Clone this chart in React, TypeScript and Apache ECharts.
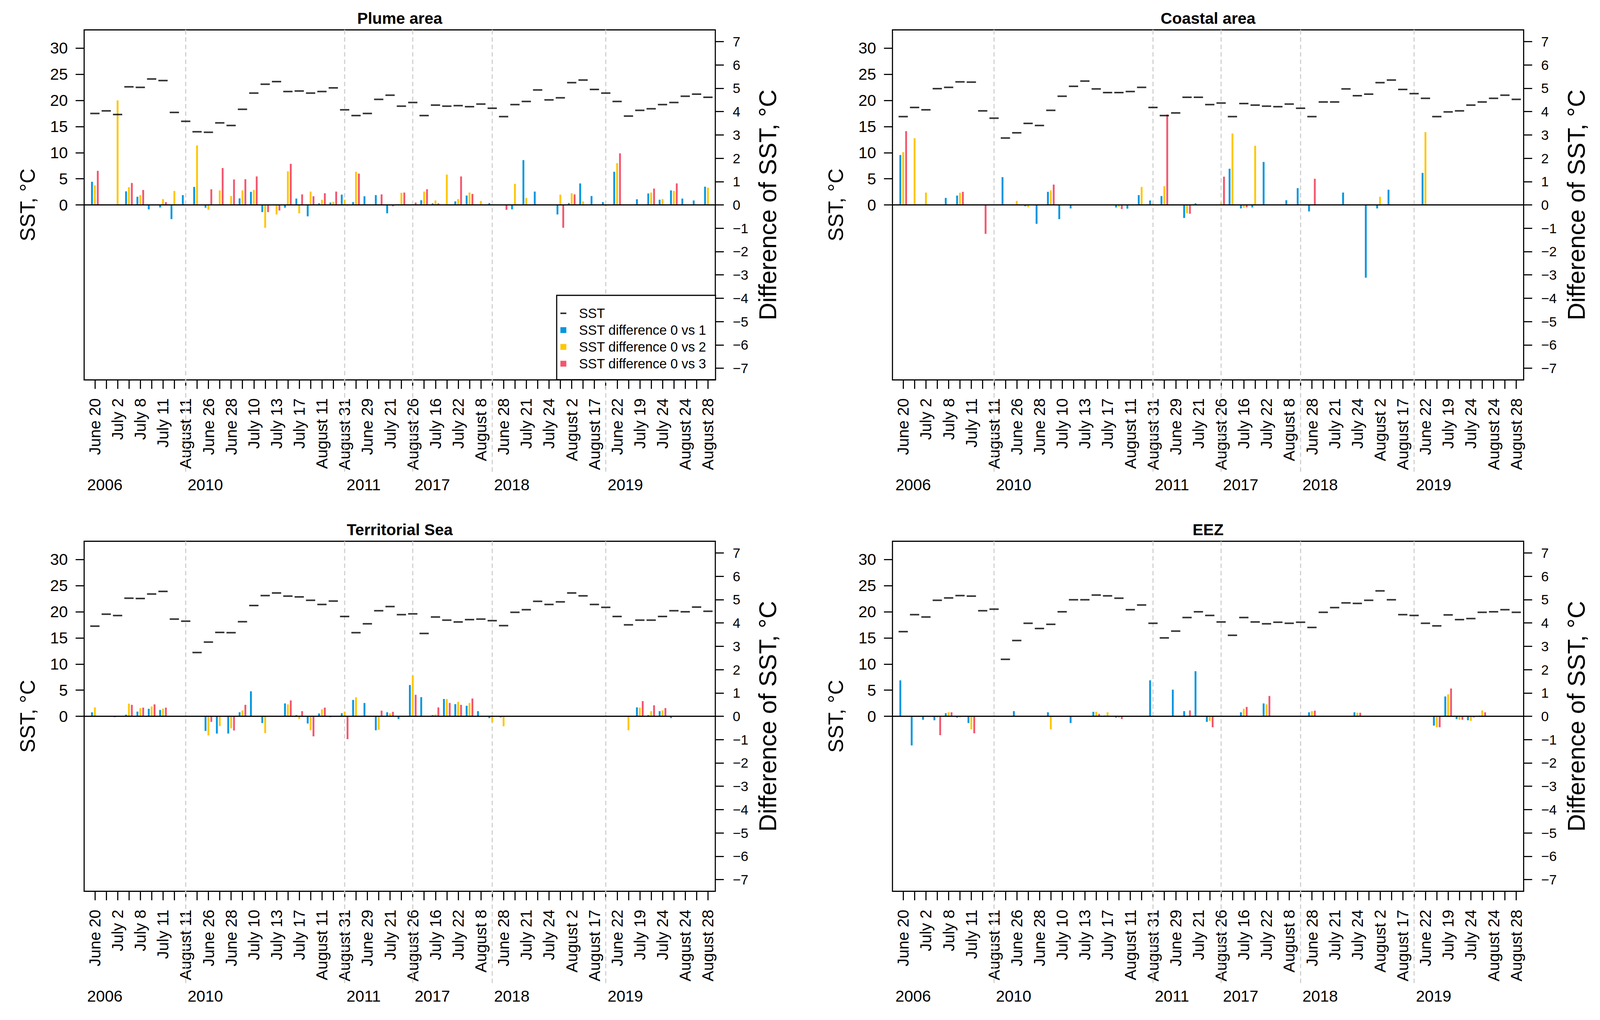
import React, { useEffect, useRef } from 'react';
import * as echarts from 'echarts';

// ---------- data ----------
// category (sampling date) labels; blanks = labels not printed in the figure
const dateLabels = [
  'June 20', '', 'July 2', '', 'July 8', '', 'July 11', '', 'August 11', '',
  'June 26', '', 'June 28', '', 'July 10', '', 'July 13', '', 'July 17', '',
  'August 11', '', 'August 31', '', 'June 29', '', 'July 21', '', 'August 26', '',
  'July 16', '', 'July 22', '', 'August 8', '', 'June 28', '', 'July 21', '',
  'July 24', '', 'August 2', '', 'August 17', '', 'June 22', '', 'July 19', '',
  'July 24', '', 'August 24', '', 'August 28',
];
const yearLabels = ['2006', '2010', '2011', '2017', '2018', '2019'];
const yearLastIdx = [8, 22, 28, 35, 45]; // last observation of each year (dashed lines)
const sstTicks = [0, 5, 10, 15, 20, 25, 30];
const diffTicks = [-7, -6, -5, -4, -3, -2, -1, 0, 1, 2, 3, 4, 5, 6, 7];
const panelTitles = ['Plume area', 'Coastal area', 'Territorial Sea', 'EEZ'];
const seriesNames = ['SST', 'SST difference 0 vs 1', 'SST difference 0 vs 2', 'SST difference 0 vs 3'];

const plumeSST = [17.5, 18.0, 17.3, 22.6, 22.5, 24.1, 23.8, 17.7, 16.0, 14.0, 13.9, 15.7, 15.2, 18.3, 21.4, 23.1, 23.6, 21.7, 21.8, 21.4, 21.7, 22.4, 18.2, 17.1, 17.5, 20.2, 21.0, 18.9, 19.6, 17.1, 19.1, 18.9, 19.0, 18.8, 19.3, 18.5, 16.9, 19.2, 19.8, 22.0, 20.1, 20.5, 23.4, 23.9, 22.1, 21.4, 19.8, 17.0, 18.1, 18.4, 19.2, 19.6, 20.8, 21.2, 20.6];
const plumeD1 = [0.99, 0, 0, 0.58, 0.35, -0.19, -0.11, -0.61, 0.42, 0.77, -0.12, 0, 0, 0.28, 0.56, -0.31, 0, -0.12, 0.27, -0.49, 0.07, 0.10, 0.44, 0.12, 0.37, 0.42, -0.36, 0.03, 0, 0.20, 0.07, 0, 0.15, 0.40, 0, 0.08, 0, -0.19, 1.92, 0.57, 0, -0.41, 0.08, 0.92, 0.38, 0.12, 1.42, 0, 0.24, 0.49, 0.22, 0.62, 0.27, 0.19, 0.78];
const plumeD2 = [0.84, 0, 4.48, 0.76, 0.42, 0, 0.25, 0.60, 0, 2.55, -0.21, 0.62, 0.38, 0.62, 0.64, -0.98, -0.41, 1.44, -0.36, 0.57, 0.22, 0.13, 0.22, 1.42, 0, 0, -0.03, 0.52, 0, 0.57, 0.19, 1.30, 0.25, 0.53, 0.17, 0, 0, 0.90, 0.30, 0, 0, 0.44, 0.50, 0.15, 0, -0.06, 1.79, 0, 0, 0.53, 0.25, 0.60, 0, 0, 0.74];
const plumeD3 = [1.46, 0, 0, 0.94, 0.64, 0, 0.12, 0, 0, 0, 0.67, 1.58, 1.09, 1.10, 1.22, -0.31, -0.24, 1.76, 0.45, 0.37, 0.50, 0.57, -0.03, 1.34, 0, 0.45, -0.06, 0.53, 0.10, 0.67, 0.07, 0, 1.22, 0.47, 0, 0, -0.21, 0, 0, 0, 0, -0.98, 0.45, 0, 0, 0, 2.21, 0, 0, 0.70, 0, 0.92, 0, 0, 0];

const coastalSST = [16.9, 18.65, 18.2, 22.25, 22.5, 23.55, 23.5, 18.0, 16.6, 12.8, 13.8, 15.6, 15.2, 18.1, 20.8, 22.7, 23.7, 22.2, 21.5, 21.5, 21.7, 22.5, 18.65, 17.1, 17.6, 20.6, 20.6, 19.2, 19.5, 16.9, 19.4, 19.1, 18.9, 18.8, 19.3, 18.5, 16.9, 19.7, 19.7, 22.2, 20.9, 21.2, 23.4, 23.9, 22.1, 21.3, 20.4, 16.9, 17.8, 18.0, 19.1, 19.7, 20.4, 21.0, 20.2];
const coastalD1 = [2.14, 0, 0, 0, 0.30, 0.40, 0, 0, 0, 1.19, 0, -0.06, -0.81, 0.56, -0.61, -0.15, 0, 0, 0, -0.11, -0.16, 0.42, 0.19, 0.38, 0, -0.56, 0.07, 0, 0, 1.55, -0.15, -0.11, 1.84, 0, 0.20, 0.72, -0.28, 0, 0, 0.53, 0, -3.12, -0.15, 0.65, 0, 0, 1.37, 0, 0, 0, 0, 0, 0, 0, 0];
const coastalD2 = [2.26, 2.86, 0.53, 0, 0, 0.52, 0, 0, 0, 0, 0.17, -0.10, 0, 0.62, 0, 0, 0, 0, 0, -0.08, 0, 0.77, 0.07, 0.80, 0, -0.36, 0, 0, 0.10, 3.06, -0.12, 2.53, 0, 0, 0, 0, 0, 0, 0, 0, 0, 0, 0.35, 0, 0, 0, 3.12, 0, 0, 0, 0, 0, 0, 0, 0];
const coastalD3 = [3.16, 0, 0, 0, 0, 0.56, 0, -1.24, 0, 0, 0, 0, 0, 0.87, 0, 0, 0, 0, 0, -0.18, 0, 0, 0, 3.87, 0, -0.38, 0, 0, 1.21, 0, -0.10, 0, 0, 0, 0, 0, 1.12, 0, 0, 0, 0, 0, 0, 0, 0, 0, 0, 0, 0, 0, 0, 0, 0, 0, 0];

const territorialSST = [17.25, 19.54, 19.28, 22.6, 22.54, 23.4, 23.9, 18.6, 18.2, 12.2, 14.2, 16.05, 16.0, 18.1, 21.2, 23.1, 23.6, 23.0, 22.85, 22.2, 21.4, 22.05, 19.1, 16.0, 17.7, 20.2, 21.0, 19.45, 19.6, 15.85, 19.0, 18.4, 18.05, 18.5, 18.6, 18.3, 17.35, 19.9, 20.4, 22.0, 21.4, 21.9, 23.6, 23.05, 21.4, 20.85, 19.1, 17.5, 18.4, 18.4, 19.1, 20.2, 20.0, 20.9, 20.1];
const territorialD1 = [0.17, 0, -0.04, 0.07, 0.20, 0.32, 0.27, 0, 0, 0, -0.63, -0.74, -0.74, 0.17, 1.07, -0.29, 0, 0.55, 0.05, -0.31, 0.12, -0.04, 0.13, 0.70, 0.57, -0.60, 0.17, -0.12, 1.34, 0.82, 0.05, 0.74, 0.52, 0.45, 0.22, -0.08, -0.05, 0, 0, 0, 0, 0, 0, 0, 0, 0, 0, 0, 0.38, 0.05, 0.22, -0.08, 0, 0, 0];
const territorialD2 = [0.38, 0, 0, 0.54, 0.35, 0.42, 0.33, 0, 0, 0, -0.82, -0.42, -0.52, 0.25, 0, -0.72, 0, 0.51, -0.12, -0.60, 0.30, 0, 0.20, 0.81, 0, -0.58, 0.12, 0, 1.75, 0, 0.08, 0.74, 0.62, 0.57, 0, -0.26, -0.43, 0, 0, 0, 0, 0, 0, 0, 0, 0, 0, -0.60, 0.37, 0.22, 0.25, 0, 0, 0, 0];
const territorialD3 = [0, 0, 0, 0.49, 0.37, 0.51, 0.37, 0, 0, 0, -0.24, 0, -0.61, 0.49, 0, 0, 0, 0.68, 0.22, -0.86, 0.37, 0, -0.98, 0, 0, 0.24, 0.19, 0, 0.92, 0, 0.38, 0.57, 0.49, 0.76, 0, 0, 0, 0, 0, 0, 0, 0, 0, 0, 0, 0, 0, 0, 0.65, 0.47, 0.35, 0, 0, 0, 0];

const eezSST = [16.2, 19.45, 19.0, 22.2, 22.65, 23.1, 23.0, 20.2, 20.5, 10.9, 14.5, 17.8, 16.8, 17.6, 20.0, 22.3, 22.3, 23.2, 23.05, 22.6, 20.4, 21.3, 17.8, 15.0, 16.3, 18.9, 20.0, 19.3, 18.05, 15.5, 18.9, 18.05, 17.7, 18.0, 17.8, 18.0, 17.0, 19.9, 20.8, 21.7, 21.6, 22.2, 24.0, 22.3, 19.45, 19.3, 17.8, 17.3, 19.4, 18.5, 18.7, 19.9, 20.0, 20.4, 19.9];
const eezD1 = [1.54, -1.25, -0.15, -0.17, 0.13, -0.06, -0.29, 0, 0, 0, 0.22, 0, 0, 0.17, 0, -0.29, 0, 0.19, 0.03, -0.06, 0, 0, 1.54, 0, 1.14, 0.22, 1.93, -0.24, 0, 0, 0.17, 0, 0.55, 0, 0, 0, 0.17, 0, 0, 0, 0.17, 0, 0, 0, 0, 0, 0, -0.40, 0.85, -0.12, -0.17, 0.03, 0, 0, 0];
const eezD2 = [0, 0, 0, -0.05, 0.17, -0.05, -0.56, 0, 0, 0, 0, 0, 0, -0.56, 0, 0, 0, 0.19, 0.17, -0.06, 0, 0, 0, 0, 0, 0, 0, -0.20, 0, 0, 0.32, 0, 0.51, 0, 0, 0, 0.22, 0, 0, 0, 0.15, 0, 0, 0, 0, 0, 0, -0.47, 0.94, -0.15, -0.20, 0.25, 0, 0, 0];
const eezD3 = [0, 0, 0, -0.81, 0.17, 0, -0.73, 0, 0, 0, 0, 0, 0, 0, 0, 0, 0, 0.10, 0, -0.12, 0, 0, 0, 0, 0, 0.25, 0, -0.47, 0, 0, 0.40, 0, 0.87, 0, 0, 0, 0.24, 0, 0, 0, 0.15, 0, 0, 0, 0, 0, 0, -0.47, 1.19, -0.15, -0.05, 0.17, 0, 0, 0];

// ---------- layout / style (designed for a 4317 x 2611 page, scaled to the real size) ----------
const FONT = "'Liberation Sans', Arial, Helvetica, sans-serif";
const COLORS = ['#0496E0', '#FFC600', '#F4566E'];
const REF_W = 4317;
const REF_H = 2611;
const X_MIN = -0.947;
const X_MAX = 54.65;

function buildOption(W: number, H: number) {
  const sx = W / REF_W;
  const sy = H / REF_H;
  const sf = Math.min(sx, sy);
  const X = (v: number) => v * sx;
  const Y = (v: number) => v * sy;
  const F = (v: number) => v * sf;

  const GRID_W = X(1703);
  const GRID_H = Y(896);
  const GRID_LEFTS = [X(227), X(2408)];
  const GRID_TOPS = [Y(76.5), Y(1385.5)];

  const panelData = [
    [plumeSST, plumeD1, plumeD2, plumeD3],
    [coastalSST, coastalD1, coastalD2, coastalD3],
    [territorialSST, territorialD1, territorialD2, territorialD3],
    [eezSST, eezD1, eezD2, eezD3],
  ];
  const catIdx = dateLabels.map((_, i) => i);
  const labelIdx = catIdx.filter((i) => dateLabels[i] !== '');
  const yearPos = [X_MIN + 0.1, ...yearLastIdx];

  const grid: any[] = [];
  const xAxis: any[] = [];
  const yAxis: any[] = [];
  const series: any[] = [];
  const title: any[] = [];
  const lw = Math.max(1, F(3));
  const tickStyle = { color: '#000', width: lw };

  panelData.forEach((pd, k) => {
    const left = GRID_LEFTS[k % 2];
    const top = GRID_TOPS[Math.floor(k / 2)];
    grid.push({
      left, top, width: GRID_W, height: GRID_H, show: true,
      borderColor: '#000', borderWidth: lw, backgroundColor: 'transparent',
    });
    title.push({
      text: panelTitles[k], left: left + GRID_W / 2, top: top - Y(50), textAlign: 'center', padding: 0,
      textStyle: { fontSize: F(43), fontWeight: 'bold', color: '#000', fontFamily: FONT },
    });
    // main x axis: ticks + date labels
    xAxis.push({
      gridIndex: k, type: 'value', min: X_MIN, max: X_MAX, position: 'bottom',
      axisLine: { show: false, onZero: false }, splitLine: { show: false },
      axisTick: { show: true, length: Y(23), lineStyle: tickStyle, customValues: catIdx },
      axisLabel: {
        customValues: labelIdx, rotate: 90, margin: Y(47), fontSize: F(43), color: '#000', fontFamily: FONT,
        formatter: (v: number) => dateLabels[Math.round(v)],
      },
    });
    // year labels
    xAxis.push({
      gridIndex: k, type: 'value', min: X_MIN, max: X_MAX, position: 'bottom',
      axisLine: { show: false, onZero: false }, axisTick: { show: false }, splitLine: { show: false },
      axisLabel: {
        customValues: yearPos, margin: Y(248), fontSize: F(43), color: '#000', fontFamily: FONT, align: 'left',
        padding: [0, 0, 0, X(5)],
        formatter: (v: number) => {
          let best = 0;
          yearPos.forEach((p, j) => { if (Math.abs(p - v) < Math.abs(yearPos[best] - v)) best = j; });
          return yearLabels[best];
        },
      },
    });
    yAxis.push({
      gridIndex: k, type: 'value', min: -33.5, max: 33.5, position: 'left',
      axisLine: { show: false, onZero: false }, splitLine: { show: false },
      axisTick: { show: true, length: X(23), lineStyle: tickStyle, customValues: sstTicks },
      axisLabel: { customValues: sstTicks, margin: X(44), fontSize: F(43), color: '#000', fontFamily: FONT },
      name: 'SST, °C', nameLocation: 'middle', nameRotate: 90, nameGap: X(125),
      nameTextStyle: { fontSize: F(56), color: '#000', fontFamily: FONT },
    });
    yAxis.push({
      gridIndex: k, type: 'value', min: -7.5, max: 7.5, position: 'right',
      axisLine: { show: false, onZero: false }, splitLine: { show: false },
      axisTick: { show: true, length: X(23), lineStyle: tickStyle, customValues: diffTicks },
      axisLabel: {
        customValues: diffTicks, margin: X(47), fontSize: F(37), color: '#000', fontFamily: FONT,
        formatter: (v: number) => (v < 0 ? '\u2212' + Math.abs(v) : String(v)),
      },
      name: 'Difference of SST, °C', nameLocation: 'middle', nameRotate: 90, nameGap: X(108),
      nameTextStyle: { fontSize: F(66), color: '#000', fontFamily: FONT },
    });

    const xi = 2 * k;
    const lineExt = Y(242);
    // dashed year separators
    series.push({
      type: 'custom', xAxisIndex: xi, yAxisIndex: 2 * k + 1, silent: true, clip: false, z: 1,
      data: yearLastIdx.map((v) => [v, 0]),
      renderItem: (params: any, api: any) => {
        const x = api.coord([api.value(0), 0])[0];
        const cs = params.coordSys;
        return {
          type: 'line',
          shape: { x1: x, y1: cs.y, x2: x, y2: cs.y + cs.height + lineExt },
          style: { stroke: '#cfcfcf', lineWidth: lw, lineDash: [F(12), F(8)] },
        };
      },
    });
    // SST dashes
    series.push({
      type: 'scatter', name: seriesNames[0], xAxisIndex: xi, yAxisIndex: 2 * k,
      symbol: 'rect', symbolSize: [X(25), Math.max(1.5, Y(4))], itemStyle: { color: '#000' }, z: 3,
      data: pd[0].map((v, i) => [i, v]),
    });
    // difference bars
    for (let s = 1; s <= 3; s++) {
      const bar: any = {
        type: 'bar', name: seriesNames[s], xAxisIndex: xi, yAxisIndex: 2 * k + 1,
        barWidth: X(5), barGap: '56%', itemStyle: { color: COLORS[s - 1] }, z: 2,
        data: pd[s].map((v, i) => [i, v]),
      };
      if (s === 3) {
        bar.markLine = {
          silent: true, symbol: ['none', 'none'], label: { show: false },
          lineStyle: { color: '#000', width: lw, type: 'solid' },
          data: [{ yAxis: 0 }],
        };
      }
      series.push(bar);
    }
  });

  const sqIcon = 'path://M0,0H16V16H0ZM45,16L45,16';
  const dashIcon = 'path://M0,6H16V10H0ZM0,0L0,0M45,16L45,16';

  return {
    animation: false,
    backgroundColor: '#fff',
    textStyle: { fontFamily: FONT },
    title,
    grid,
    xAxis,
    yAxis,
    legend: {
      left: X(1502), top: Y(756), orient: 'vertical', selectedMode: false,
      backgroundColor: '#fff', borderColor: '#000', borderWidth: lw,
      padding: [Y(26), X(25), Y(21), X(10)], itemGap: Y(3), itemWidth: X(45), itemHeight: Y(16),
      textStyle: { fontSize: F(36), color: '#000', fontFamily: FONT, lineHeight: Y(40) },
      data: [
        { name: seriesNames[0], icon: dashIcon },
        { name: seriesNames[1], icon: sqIcon },
        { name: seriesNames[2], icon: sqIcon },
        { name: seriesNames[3], icon: sqIcon },
      ],
      z: 10,
    },
    series,
  };
}

export default function App() {
  const ref = useRef<HTMLDivElement>(null);
  useEffect(() => {
    if (!ref.current) return;
    const chart = echarts.init(ref.current, null, { renderer: 'svg' });
    const draw = () => {
      chart.resize();
      chart.setOption(buildOption(chart.getWidth(), chart.getHeight()) as any, true);
    };
    draw();
    window.addEventListener('resize', draw);
    return () => {
      window.removeEventListener('resize', draw);
      chart.dispose();
    };
  }, []);
  return (
    <div
      ref={ref}
      style={{ position: 'fixed', left: 0, top: 0, width: '100vw', height: '100vh', background: '#fff' }}
    />
  );
}
